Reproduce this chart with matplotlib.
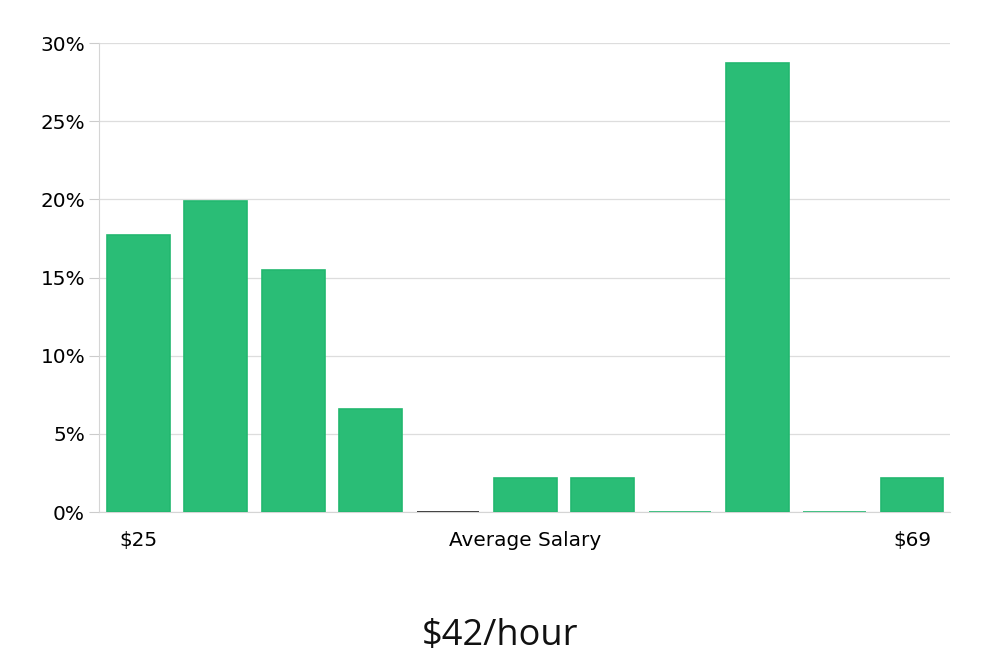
import matplotlib.pyplot as plt
import numpy as np

# salary distribution (share of responses per bin)
shares = [17.7, 19.9, 15.5, 6.6, 0.0, 2.2, 2.2, 0.0, 28.7, 0.0, 2.2]
bar_edges = ["#22b86f", "#22b86f", "#22b86f", "#22b86f", "#222222",
             "#22b86f", "#22b86f", "#22b86f", "#22b86f", "#22b86f", "#22b86f"]
tick_pos = [0, 5, 10]
tick_labels = ["$25", "Average Salary", "$69"]
y_ticks = [0, 5, 10, 15, 20, 25, 30]

fig = plt.figure(figsize=(10, 6.6), dpi=100)
ax = fig.add_axes([0.099, 0.2242, 0.851, 0.7106])

x = np.arange(len(shares))
ax.bar(x, shares, width=0.81, color="#2abd76", edgecolor=bar_edges,
       linewidth=1.2, zorder=3)

ax.set_xlim(-0.51, 10.49)
ax.set_ylim(0, 30)
ax.set_yticks(y_ticks)
ax.set_yticklabels([f"{v}%" for v in y_ticks], fontsize=14.4)
ax.set_xticks(tick_pos)
ax.set_xticklabels(tick_labels, fontsize=14.4)
ax.tick_params(axis="x", length=0, pad=14)
ax.tick_params(axis="y", length=7, color="#cccccc", pad=3)

ax.grid(axis="y", color="#dddddd", linewidth=0.9, zorder=0)
for s in ["top", "right"]:
    ax.spines[s].set_visible(False)
ax.spines["left"].set_color("#d5d5d5")
ax.spines["bottom"].set_color("#d5d5d5")

fig.text(0.5, 0.036, "$42/hour", ha="center", va="center",
         fontsize=26, family="Open Sans", color="#111111")

fig.savefig("out.png")
